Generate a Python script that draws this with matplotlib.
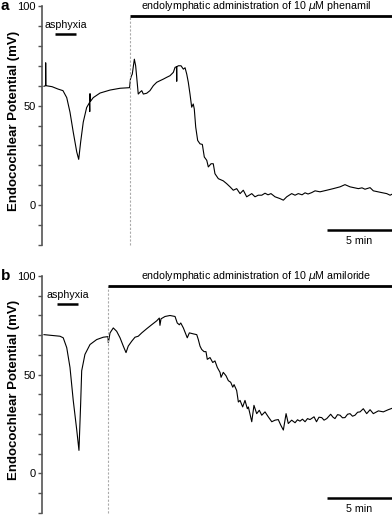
import numpy as np
import matplotlib
matplotlib.use("Agg")
import matplotlib.pyplot as plt

plt.rcParams['font.family'] = ['Liberation Sans', 'DejaVu Sans']
plt.rcParams['mathtext.fontset'] = 'dejavusans'

# time in minutes, potential in mV
t_a = [0.0, 0.12, 0.13, 0.15, 0.62, 1.08, 1.46, 1.75, 2.0, 2.25, 2.52, 2.67, 2.82, 3.02,
       3.28, 3.5, 3.52, 3.54, 3.56, 3.79, 4.31, 5.08, 5.85, 6.58, 6.65, 6.73, 6.79, 6.95,
       7.05, 7.18, 7.25, 7.38, 7.52, 7.64, 7.9, 8.15, 8.41, 8.67, 8.92, 9.18, 9.44, 9.69,
       9.95, 10.08, 10.19, 10.21, 10.22, 10.33, 10.54, 10.72, 10.85, 10.98, 11.1, 11.23,
       11.36, 11.48, 11.56, 11.67, 11.82, 12.0, 12.18, 12.33, 12.52, 12.64, 12.85, 13.02,
       13.15, 13.41, 13.79, 14.05, 14.31, 14.56, 14.82, 15.08, 15.33, 15.59, 15.98, 16.23,
       16.48, 16.75, 17.0, 17.23, 17.46, 17.77, 18.15, 18.41, 18.67, 19.05, 19.31, 19.56,
       19.85, 20.08, 20.31, 20.59, 20.85, 21.23, 21.75, 22.25, 22.77, 23.15, 23.54, 24.18,
       24.46, 24.69, 25.08, 25.33, 25.98, 26.36, 26.62, 26.77]
ep_a = [59.7, 60, 71.5, 60, 59.5, 58.3, 57.5, 54, 46.7, 36.7, 26.7, 23, 31.7, 41.7,
        49, 51.5, 47, 56, 52, 54, 56.3, 57.8, 58.7, 59, 63.3, 65, 65.8, 73.3,
        70, 60.8, 55.8, 56.7, 57.5, 55.8, 56.2, 57.5, 60, 61.7, 62.5, 63.3, 64.2, 65,
        66.7, 69.2, 69.5, 62.2, 69.5, 70, 70, 68.3, 69, 65.8, 61.7, 55.8,
        49.2, 50.8, 48.3, 39.2, 32.5, 30.8, 30.5, 24.2, 22.5, 19.2, 20.8, 20.8,
        15.8, 13.3, 12.2, 10.8, 9.2, 7.5, 8.3, 5.8, 7.5, 4.2, 5.8, 4.2,
        5, 5, 6, 5.2, 5.8, 4.2, 3.3, 2.5, 4.2, 5.8, 5.0, 5.8,
        5.2, 6.2, 5.6, 6.3, 7.2, 6.7, 7.5, 8.3, 9.2, 10.3, 9.2, 8.3,
        8.7, 8, 8.8, 7.2, 6.3, 5.8, 5, 5.5]

t_b = [0.0, 0.46, 1.23, 1.48, 1.75, 2.0, 2.25, 2.52, 2.69, 2.82, 2.9, 3.15, 3.54, 4.05,
       4.56, 4.92, 4.95, 5.08, 5.33, 5.59, 5.85, 6.1, 6.31, 6.48, 6.75, 7.0, 7.25, 7.52,
       7.9, 8.28, 8.67, 8.87, 8.92, 9.0, 9.31, 9.69, 10.08, 10.25, 10.41, 10.52, 10.72,
       11.02, 11.18, 11.48, 11.75, 11.87, 12.0, 12.13, 12.31, 12.46, 12.56, 12.77, 12.98,
       13.15, 13.33, 13.54, 13.62, 13.79, 14.0, 14.18, 14.36, 14.52, 14.62, 14.82, 14.95,
       15.08, 15.28, 15.46, 15.64, 15.72, 15.98, 16.15, 16.36, 16.56, 16.75, 17.0, 17.25,
       17.52, 17.77, 18.02, 18.21, 18.41, 18.62, 18.79, 19.05, 19.31, 19.5, 19.69, 19.88,
       20.08, 20.27, 20.46, 20.77, 20.96, 21.15, 21.36, 21.54, 21.75, 22.05, 22.23, 22.38,
       22.58, 22.77, 22.96, 23.15, 23.35, 23.54, 23.73, 23.92, 24.12, 24.31, 24.56, 24.82,
       25.08, 25.33, 25.72, 26.1, 26.48, 26.77]
ep_b = [70.3, 70, 69.5, 68.7, 63.7, 53.7, 37, 22, 11.7, 35.3, 52, 60.3, 65.3, 67.8,
        69, 69.3, 66.2, 71.2, 73.7, 72, 68.7, 64.5, 61.2, 64.5, 67, 69, 69.5, 71.2,
        73.3, 75.3, 77.3, 78.7, 75, 78.3, 79.5, 80, 79.5, 76.2, 75.3, 76.2, 73.7,
        68.7, 71.2, 70.7, 70.3, 67.8, 64.5, 62.8, 61.7, 61.7, 57.8, 58.7, 56.2,
        57, 53.7, 51.2, 48.7, 51.2, 49.5, 47, 46.2, 43.7, 45, 42, 36.2,
        37, 33.7, 37, 32.8, 33.7, 26.2, 34.5, 30.3, 32, 29.5, 31.2, 28.7,
        26.2, 27, 27.3, 24.5, 22, 30.3, 25.3, 27, 25.7, 27.2, 26.5, 27.5,
        26.2, 27.8, 27.3, 28.7, 26.2, 28.5, 28.3, 27, 27.8, 30, 28.5, 27.8,
        29.8, 29.5, 28.2, 28.3, 30, 30.3, 29, 29.5, 31, 31.2, 32.8, 30.3,
        32.3, 30.3, 31.7, 31.2, 32.3, 33]

panels = ['a', 'b']
drugs = ['phenamil', 'amiloride']
t_drug = [6.62, 4.92]
asphyxia = [(0.85, 2.46), (1.0, 2.62)]
t_end = 26.77

fig = plt.figure(figsize=(3.92, 5.15), dpi=100)
rects = [[0.1071, 0.5243, 0.893, 0.4640], [0.1071, 0.0039, 0.893, 0.4602]]

for i, (t, ep) in enumerate([(t_a, ep_a), (t_b, ep_b)]):
    ax = fig.add_axes(rects[i])
    ax.plot(t, ep, color='black', lw=0.8)
    ax.set_xlim(-0.154, t_end)
    ax.set_ylim(-20, 100)
    for s in ['top', 'right', 'bottom']:
        ax.spines[s].set_visible(False)
    ax.spines['left'].set_color('#555555')
    ax.spines['left'].set_linewidth(1.2)
    ax.set_xticks([])
    ax.set_yticks([0, 50, 100])
    ax.set_yticks(np.arange(-20, 101, 10), minor=True)
    ax.tick_params(axis='y', which='both', direction='out', length=3, width=1,
                   color='#555555', labelsize=8, pad=1.5)
    ax.set_ylabel('Endocochlear Potential (mV)', fontsize=9.5, fontweight='bold')
    ax.yaxis.set_label_coords(-0.064, 0.52)

    # drug application marker
    ax.plot([t_drug[i], t_drug[i]], [-20, 95], color='#aaaaaa', lw=0.8, ls=(0, (2, 1.5)),
            clip_on=False)
    ax.plot([t_drug[i], t_end], [95, 95], color='black', lw=2, clip_on=False,
            solid_capstyle='butt')
    ax.text(16.3, 100, r'endolymphatic administration of 10 $\mu$M ' + drugs[i],
            ha='center', va='center', fontsize=7.7)

    # asphyxia marker
    ax.plot(asphyxia[i], [86, 86], color='black', lw=1.8, solid_capstyle='butt')
    ax.text(sum(asphyxia[i]) / 2, 90.5, 'asphyxia', ha='center', va='center', fontsize=7.7)

    # 5 min scale bar
    ax.plot([t_end - 5, t_end], [-12.5, -12.5], color='black', lw=1.8,
            solid_capstyle='butt', clip_on=False)
    ax.text(t_end - 2.5, -18, '5 min', ha='center', va='center', fontsize=7.7)

    ax.text(-0.118, 1.0, panels[i], transform=ax.transAxes, fontsize=11,
            fontweight='bold', ha='left', va='center')

fig.savefig('out.png', dpi=100)
